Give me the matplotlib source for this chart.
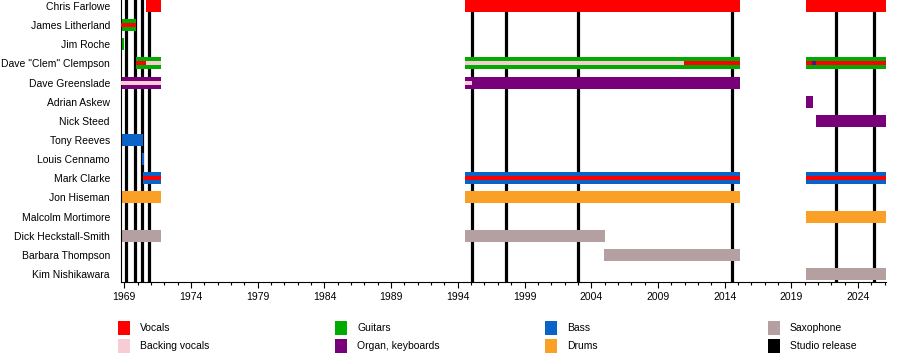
import matplotlib.pyplot as plt
from matplotlib.patches import Rectangle

plt.rcParams['font.family'] = ['Liberation Sans', 'DejaVu Sans']

# band members, top to bottom
members = ["Chris Farlowe", "James Litherland", "Jim Roche", 'Dave "Clem" Clempson',
           "Dave Greenslade", "Adrian Askew", "Nick Steed", "Tony Reeves",
           "Louis Cennamo", "Mark Clarke", "Jon Hiseman", "Malcolm Mortimore",
           "Dick Heckstall-Smith", "Barbara Thompson", "Kim Nishikawara"]

role_colors = {
    "Vocals": "#ff0000",
    "Backing vocals": "#f8ccd3",
    "Guitars": "#00aa00",
    "Organ, keyboards": "#780078",
    "Bass": "#0a64c8",
    "Drums": "#fba026",
    "Saxophone": "#b4a0a0",
    "Studio release": "#000000",
}

# main bars: (member index, start, end, role)
main_bars = [
    (0, 1970.63, 1971.75, "Vocals"), (0, 1994.54, 2015.15, "Vocals"), (0, 2020.1, 2026.1, "Vocals"),
    (1, 1968.75, 1969.9, "Guitars"),
    (2, 1968.75, 1969.0, "Guitars"),
    (3, 1969.88, 1971.75, "Guitars"), (3, 1994.54, 2015.15, "Guitars"), (3, 2020.1, 2026.1, "Guitars"),
    (4, 1968.75, 1971.75, "Organ, keyboards"), (4, 1994.54, 2015.15, "Organ, keyboards"),
    (5, 2020.1, 2020.6, "Organ, keyboards"),
    (6, 2020.85, 2026.1, "Organ, keyboards"),
    (7, 1968.75, 1970.38, "Bass"),
    (8, 1970.33, 1970.45, "Bass"),
    (9, 1970.42, 1971.75, "Bass"), (9, 1994.54, 2015.15, "Bass"), (9, 2020.1, 2026.1, "Bass"),
    (10, 1968.75, 1971.75, "Drums"), (10, 1994.54, 2015.15, "Drums"),
    (11, 2020.1, 2026.1, "Drums"),
    (12, 1968.75, 1971.75, "Saxophone"), (12, 1994.54, 2005.01, "Saxophone"),
    (13, 2004.96, 2015.15, "Saxophone"),
    (14, 2020.1, 2026.1, "Saxophone"),
]

# thin inner stripes for secondary roles
inner_bars = [
    (1, 1968.75, 1969.9, "Vocals"),
    (3, 1969.88, 1970.63, "Vocals"), (3, 1970.63, 1971.75, "Backing vocals"),
    (3, 1994.54, 2010.96, "Backing vocals"), (3, 2010.96, 2015.15, "Vocals"),
    (3, 2020.1, 2026.1, "Vocals"), (3, 2020.55, 2020.85, "Organ, keyboards"),
    (4, 1968.75, 1971.75, "Backing vocals"), (4, 1994.54, 1995.04, "Backing vocals"),
    (9, 1970.42, 1971.75, "Vocals"), (9, 1994.54, 2015.15, "Vocals"), (9, 2020.1, 2026.1, "Vocals"),
]

studio_releases = [1969.1, 1969.8, 1970.35, 1970.87, 1995.04, 1997.64, 2003.03, 2014.53, 2022.33, 2025.22]

legend_order = ["Vocals", "Backing vocals", "Guitars", "Organ, keyboards",
                "Bass", "Drums", "Saxophone", "Studio release"]

fig = plt.figure(figsize=(9, 3.6), dpi=100)
ax = fig.add_axes([121 / 900, 1 - 282 / 360, 765 / 900, 282 / 360])

for x in studio_releases:
    ax.axvline(x, color="black", lw=2.3, zorder=1)

for i, s, e, role in main_bars:
    ax.barh(i, e - s, left=s, height=0.63, color=role_colors[role], lw=0, zorder=2)
for i, s, e, role in inner_bars:
    ax.barh(i, e - s, left=s, height=0.21, color=role_colors[role], lw=0, zorder=3)

ax.set_xlim(1968.75, 2026.1)
ax.set_ylim(14 + 8 / 19.14, -6 / 19.14)
ax.set_yticks(range(len(members)))
ax.set_yticklabels(members, fontsize=7.5)
ax.tick_params(axis="y", length=0, pad=8)
ax.set_xticks(range(1969, 2026, 5))
ax.set_xticks(range(1969, 2027), minor=True)
ax.tick_params(axis="x", labelsize=7.5, length=4, width=0.8, pad=3)
ax.tick_params(axis="x", which="minor", length=2.5, width=0.8)
for side in ["top", "right"]:
    ax.spines[side].set_visible(False)
ax.spines["left"].set_linewidth(0.8)
ax.spines["bottom"].set_linewidth(0.8)

# legend, four columns of two
col_x = [118, 335, 545, 768]
row_y = [328, 346]
for k, role in enumerate(legend_order):
    cx = col_x[k // 2]
    cy = row_y[k % 2]
    fig.add_artist(Rectangle((cx / 900, 1 - (cy + 7) / 360), 12 / 900, 14 / 360,
                             transform=fig.transFigure, color=role_colors[role], lw=0))
    fig.text((cx + 22) / 900, 1 - cy / 360, role, fontsize=7.5, va="center")

fig.savefig("out.png", dpi=100)
